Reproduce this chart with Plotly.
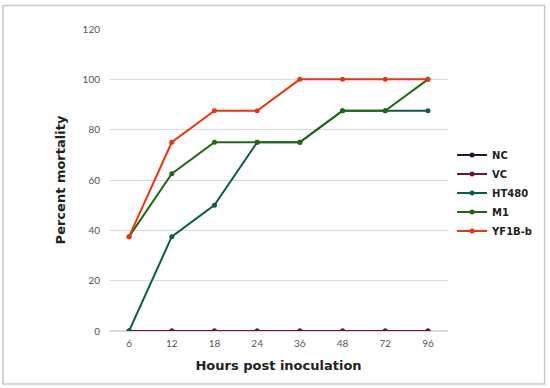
import plotly.graph_objects as go

hours = ["6", "12", "18", "24", "36", "48", "72", "96"]
series_names = ["NC", "VC", "HT480", "M1", "YF1B-b"]
nc = [0, 0, 0, 0, 0, 0, 0, 0]
vc = [0, 0, 0, 0, 0, 0, 0, 0]
ht480 = [0, 37.5, 50, 75, 75, 87.5, 87.5, 87.5]
m1 = [37.5, 62.5, 75, 75, 75, 87.5, 87.5, 100]
yf1b = [37.5, 75, 87.5, 87.5, 100, 100, 100, 100]
y_ticks = [0, 20, 40, 60, 80, 100, 120]

colors = ["#1c1c2a", "#6e1530", "#0b5e45", "#1f6a10", "#ea3512"]
values = [nc, vc, ht480, m1, yf1b]

fig = go.Figure()
for name, vals, col in zip(series_names, values, colors):
    fig.add_trace(go.Scatter(
        x=hours, y=vals, name="<b>" + name + "</b>", mode="lines+markers",
        line=dict(color=col, width=2), marker=dict(color=col, size=5),
    ))

fig.update_layout(
    width=550, height=388,
    paper_bgcolor="white", plot_bgcolor="white",
    margin=dict(l=109, r=102, t=29, b=57),
    font=dict(family="Lato, 'DejaVu Sans', sans-serif", color="#555555"),
    legend=dict(
        x=1.012, y=0.457, xanchor="left", yanchor="middle",
        font=dict(size=10, color="#222222", family="'DejaVu Sans', sans-serif"),
        tracegroupgap=0, itemwidth=30,
        bgcolor="rgba(0,0,0,0)",
    ),
    xaxis=dict(
        type="category", showgrid=False, zeroline=False, showline=False,
        ticks="", tickfont=dict(size=10, color="#555555"), ticklabelstandoff=5,
        title=dict(text="<b>Hours post inoculation</b>", font=dict(size=13, color="#222222", family="'DejaVu Sans', sans-serif"), standoff=12),
    ),
    yaxis=dict(
        range=[0, 120], tickvals=y_ticks, showgrid=True, gridcolor="#d9d9d9", gridwidth=1,
        zeroline=True, zerolinecolor="#d9d9d9", showline=False, ticks="",
        tickfont=dict(size=10, color="#555555"), ticklabelstandoff=8,
        title=dict(text="<b>Percent mortality</b>", font=dict(size=13, color="#222222", family="'DejaVu Sans', sans-serif"), standoff=14),
    ),
    shapes=[dict(type="rect", xref="paper", yref="paper", layer="above",
                 x0=-0.3127, x1=1.285, y0=-0.1755, y1=1.078,
                 line=dict(color="#c8c8c8", width=1.5))],
)

fig.write_html("out.html", config={"displayModeBar": False},
               post_script="document.body.style.margin='0';")
